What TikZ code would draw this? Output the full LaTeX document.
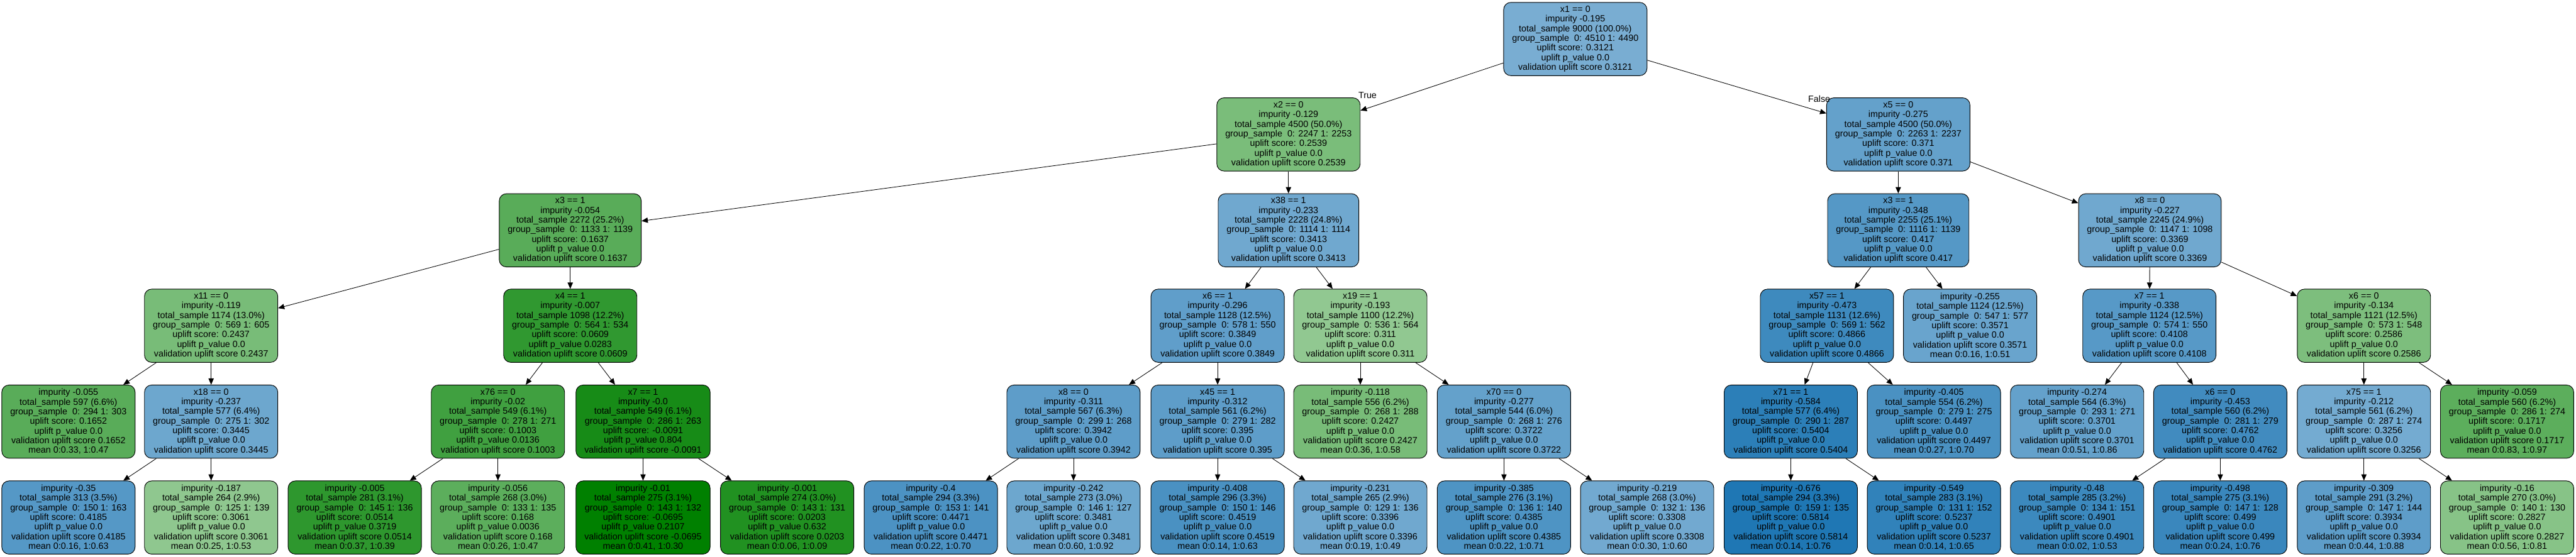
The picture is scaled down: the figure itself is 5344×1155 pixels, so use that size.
\documentclass[tikz,border=0pt]{standalone}
\usepackage{fontspec}
\setmainfont{Liberation Sans}
\usetikzlibrary{arrows.meta}
\definecolor{ub}{HTML}{1F77B4}
\definecolor{ug}{RGB}{0,128,0}
\newcommand\intxt[7]{#1\\impurity #2\\total\_sample #3\\group\_sample\ \ 0: #4 1: #5\\uplift score: #6\\uplift p\_value #7\\validation uplift score #6}
\newcommand\lftxt[8]{impurity #1\\total\_sample #2\\group\_sample\ \ 0: #3 1: #4\\uplift score: #5\\uplift p\_value #6\\validation uplift score #5\\mean 0:#7, 1:#8}
\tikzset{
  box/.style={draw=black, line width=1.2pt, rounded corners=15pt, align=center,
    font=\fontsize{18.7pt}{20pt}\selectfont, inner xsep=17.5pt, inner ysep=0pt,
    minimum height=152pt, text=black},
  bl/.style={box, fill=ub!#1!white},
  gr/.style={box, fill=ug!#1!white},
  edg/.style={-{Triangle[length=13pt,width=11pt]}, line width=1.1pt},
  lbl/.style={font=\fontsize{18.7pt}{20pt}\selectfont, inner sep=0pt}
}
\begin{document}
\begin{tikzpicture}[x=1pt,y=-1pt]
\useasboundingbox (0,0) rectangle (5344,1155);
% row 0
\node[bl=60] (n0) at (3268,81) {\intxt{x1 == 0}{-0.195}{9000 (100.0\%)}{4510}{4490}{0.3121}{0.0}};
% row 1
\node[gr=52] (n1) at (2673,279) {\intxt{x2 == 0}{-0.129}{4500 (50.0\%)}{2247}{2253}{0.2539}{0.0}};
\node[bl=69] (n2) at (3938,279) {\intxt{x5 == 0}{-0.275}{4500 (50.0\%)}{2263}{2237}{0.371}{0.0}};
% row 2
\node[gr=65] (n3) at (1183,478) {\intxt{x3 == 1}{-0.054}{2272 (25.2\%)}{1133}{1139}{0.1637}{0.0}};
\node[bl=64] (n4) at (2673,478) {\intxt{x38 == 1}{-0.233}{2228 (24.8\%)}{1114}{1114}{0.3413}{0.0}};
\node[bl=76] (n5) at (3938,478) {\intxt{x3 == 1}{-0.348}{2255 (25.1\%)}{1116}{1139}{0.417}{0.0}};
\node[bl=64] (n6) at (4460,478) {\intxt{x8 == 0}{-0.227}{2245 (24.9\%)}{1147}{1098}{0.3369}{0.0}};
% row 3
\node[gr=53] (n7) at (438,676) {\intxt{x11 == 0}{-0.119}{1174 (13.0\%)}{569}{605}{0.2437}{0.0}};
\node[gr=81] (n8) at (1183,676) {\intxt{x4 == 1}{-0.007}{1098 (12.2\%)}{564}{534}{0.0609}{0.0283}};
\node[bl=71] (n9) at (2526,676) {\intxt{x6 == 1}{-0.296}{1128 (12.5\%)}{578}{550}{0.3849}{0.0}};
\node[gr=43] (n10) at (2822,676) {\intxt{x19 == 1}{-0.193}{1100 (12.2\%)}{536}{564}{0.311}{0.0}};
\node[bl=86] (n11) at (3790,676) {\intxt{x57 == 1}{-0.473}{1131 (12.6\%)}{569}{562}{0.4866}{0.0}};
\node[bl=67] (n12) at (4087,676) {\lftxt{-0.255}{1124 (12.5\%)}{547}{577}{0.3571}{0.0}{0.16}{0.51}};
\node[bl=75] (n13) at (4459,676) {\intxt{x7 == 1}{-0.338}{1124 (12.5\%)}{574}{550}{0.4108}{0.0}};
\node[gr=51] (n14) at (4904,676) {\intxt{x6 == 0}{-0.134}{1121 (12.5\%)}{573}{548}{0.2586}{0.0}};
% row 4
\node[gr=65] (n15) at (142,875) {\lftxt{-0.055}{597 (6.6\%)}{294}{303}{0.1652}{0.0}{0.33}{0.47}};
\node[bl=65] (n16) at (438,875) {\intxt{x18 == 0}{-0.237}{577 (6.4\%)}{275}{302}{0.3445}{0.0}};
\node[gr=75] (n17) at (1033,875) {\intxt{x76 == 0}{-0.02}{549 (6.1\%)}{278}{271}{0.1003}{0.0136}};
\node[gr=91] (n18) at (1334,875) {\intxt{x7 == 1}{-0.0}{549 (6.1\%)}{286}{263}{-0.0091}{0.804}};
\node[bl=72] (n19) at (2227,875) {\intxt{x8 == 0}{-0.311}{567 (6.3\%)}{299}{268}{0.3942}{0.0}};
\node[bl=72] (n20) at (2526,875) {\intxt{x45 == 1}{-0.312}{561 (6.2\%)}{279}{282}{0.395}{0.0}};
\node[gr=53] (n21) at (2822,875) {\lftxt{-0.118}{556 (6.2\%)}{268}{288}{0.2427}{0.0}{0.36}{0.58}};
\node[bl=69] (n22) at (3120,875) {\intxt{x70 == 0}{-0.277}{544 (6.0\%)}{268}{276}{0.3722}{0.0}};
\node[bl=94] (n23) at (3715,875) {\intxt{x71 == 1}{-0.584}{577 (6.4\%)}{290}{287}{0.5404}{0.0}};
\node[bl=81] (n24) at (4012,875) {\lftxt{-0.405}{554 (6.2\%)}{279}{275}{0.4497}{0.0}{0.27}{0.70}};
\node[bl=69] (n25) at (4309,875) {\lftxt{-0.274}{564 (6.3\%)}{293}{271}{0.3701}{0.0}{0.51}{0.86}};
\node[bl=85] (n26) at (4606,875) {\intxt{x6 == 0}{-0.453}{560 (6.2\%)}{281}{279}{0.4762}{0.0}};
\node[bl=62] (n27) at (4904,875) {\intxt{x75 == 1}{-0.212}{561 (6.2\%)}{287}{274}{0.3256}{0.0}};
\node[gr=64] (n28) at (5201,875) {\lftxt{-0.059}{560 (6.2\%)}{286}{274}{0.1717}{0.0}{0.83}{0.97}};
% row 5
\node[bl=76] (n29) at (142,1074) {\lftxt{-0.35}{313 (3.5\%)}{150}{163}{0.4185}{0.0}{0.16}{0.63}};
\node[gr=44] (n30) at (438,1074) {\lftxt{-0.187}{264 (2.9\%)}{125}{139}{0.3061}{0.0}{0.25}{0.53}};
\node[gr=82] (n31) at (736,1074) {\lftxt{-0.005}{281 (3.1\%)}{145}{136}{0.0514}{0.3719}{0.37}{0.39}};
\node[gr=64] (n32) at (1033,1074) {\lftxt{-0.056}{268 (3.0\%)}{133}{135}{0.168}{0.0036}{0.26}{0.47}};
\node[gr=100] (n33) at (1334,1074) {\lftxt{-0.01}{275 (3.1\%)}{143}{132}{-0.0695}{0.2107}{0.41}{0.30}};
\node[gr=87] (n34) at (1633,1074) {\lftxt{-0.001}{274 (3.0\%)}{143}{131}{0.0203}{0.632}{0.06}{0.09}};
\node[bl=80] (n35) at (1931,1074) {\lftxt{-0.4}{294 (3.3\%)}{153}{141}{0.4471}{0.0}{0.22}{0.70}};
\node[bl=65] (n36) at (2227,1074) {\lftxt{-0.242}{273 (3.0\%)}{146}{127}{0.3481}{0.0}{0.60}{0.92}};
\node[bl=81] (n37) at (2526,1074) {\lftxt{-0.408}{296 (3.3\%)}{150}{146}{0.4519}{0.0}{0.14}{0.63}};
\node[bl=64] (n38) at (2822,1074) {\lftxt{-0.231}{265 (2.9\%)}{129}{136}{0.3396}{0.0}{0.19}{0.49}};
\node[bl=79] (n39) at (3120,1074) {\lftxt{-0.385}{276 (3.1\%)}{136}{140}{0.4385}{0.0}{0.22}{0.71}};
\node[bl=63] (n40) at (3417,1074) {\lftxt{-0.219}{268 (3.0\%)}{132}{136}{0.3308}{0.0}{0.30}{0.60}};
\node[bl=100] (n41) at (3715,1074) {\lftxt{-0.676}{294 (3.3\%)}{159}{135}{0.5814}{0.0}{0.14}{0.76}};
\node[bl=92] (n42) at (4012,1074) {\lftxt{-0.549}{283 (3.1\%)}{131}{152}{0.5237}{0.0}{0.14}{0.65}};
\node[bl=87] (n43) at (4309,1074) {\lftxt{-0.48}{285 (3.2\%)}{134}{151}{0.4901}{0.0}{0.02}{0.53}};
\node[bl=88] (n44) at (4606,1074) {\lftxt{-0.498}{275 (3.1\%)}{147}{128}{0.499}{0.0}{0.24}{0.76}};
\node[bl=72] (n45) at (4904,1074) {\lftxt{-0.309}{291 (3.2\%)}{147}{144}{0.3934}{0.0}{0.44}{0.88}};
\node[gr=47] (n46) at (5201,1074) {\lftxt{-0.16}{270 (3.0\%)}{140}{130}{0.2827}{0.0}{0.56}{0.81}};
% edge labels
\node[lbl] (tl) at (2837,198) {True};
\node[lbl] (fl) at (3774,205) {False};
% edges
\foreach \p/\c in {n0/n1,n0/n2,n1/n3,n1/n4,n2/n5,n2/n6,n3/n7,n3/n8,n4/n9,n4/n10,
  n5/n11,n5/n12,n6/n13,n6/n14,n7/n15,n7/n16,n8/n17,n8/n18,n9/n19,n9/n20,
  n10/n21,n10/n22,n11/n23,n11/n24,n13/n25,n13/n26,n14/n27,n14/n28,
  n16/n29,n16/n30,n17/n31,n17/n32,n18/n33,n18/n34,n19/n35,n19/n36,
  n20/n37,n20/n38,n22/n39,n22/n40,n23/n41,n23/n42,n26/n43,n26/n44,n27/n45,n27/n46}
  \draw[edg] (\p) -- (\c);
\end{tikzpicture}
\end{document}
